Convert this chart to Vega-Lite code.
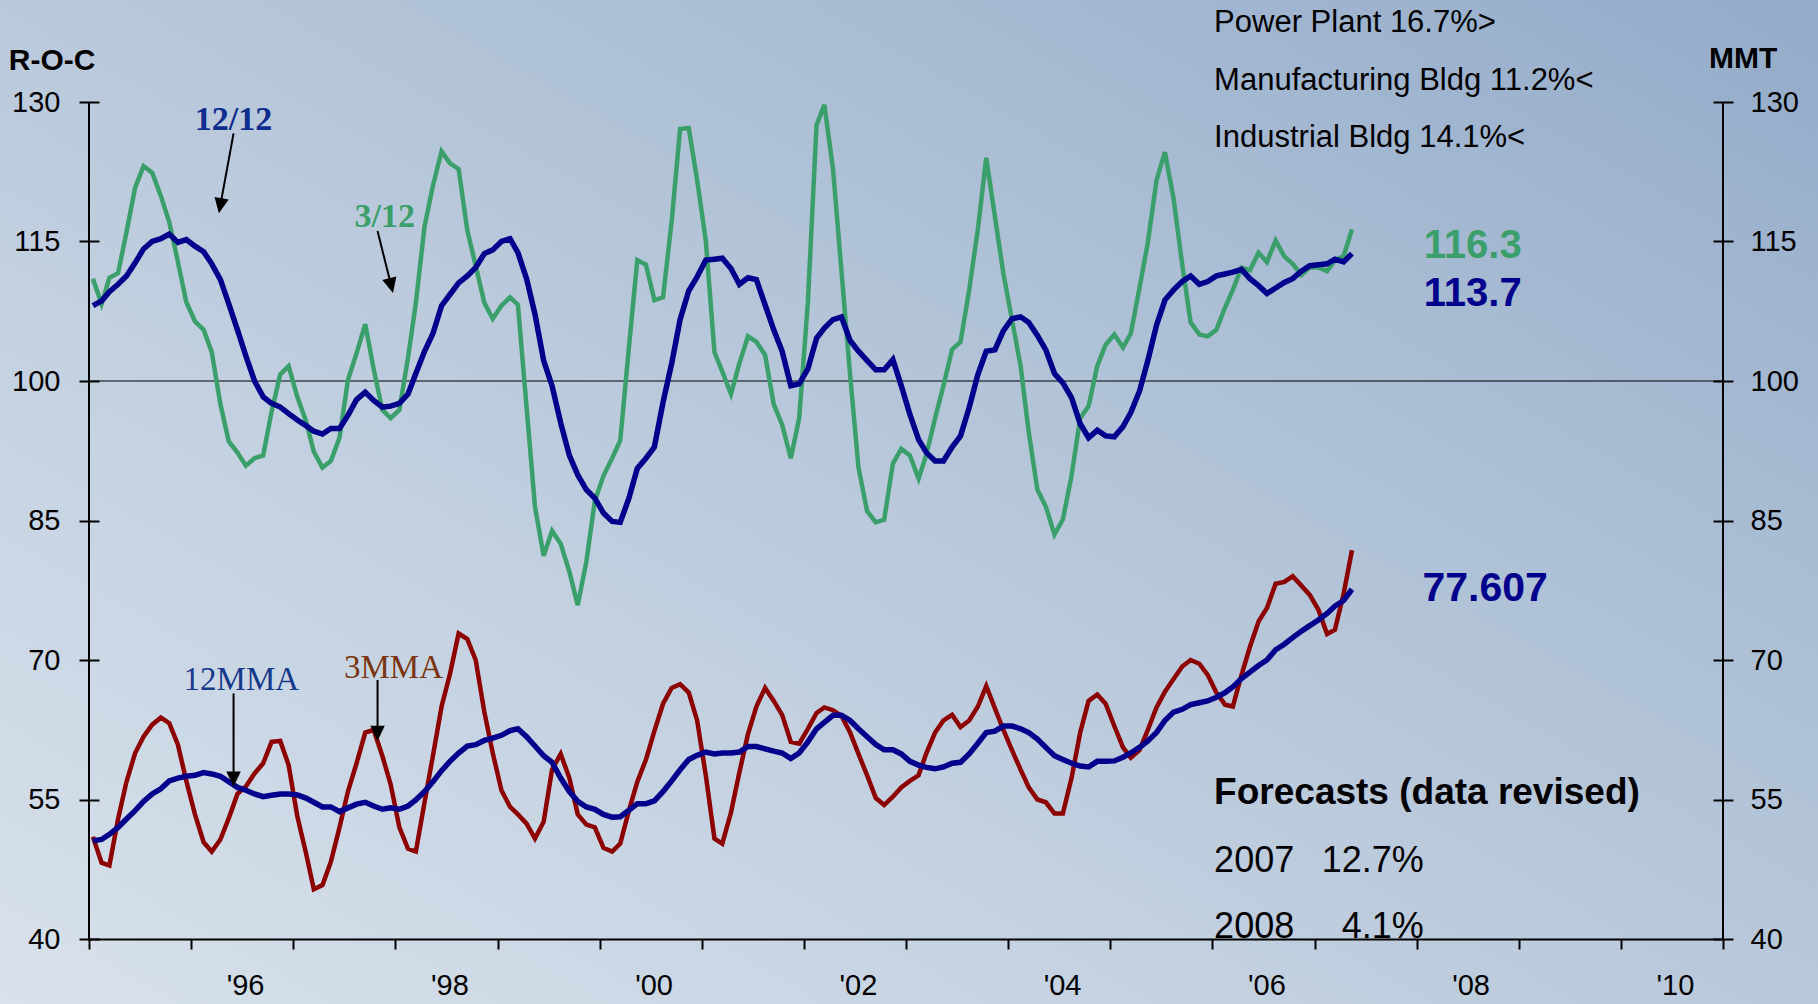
{
  "$schema": "https://vega.github.io/schema/vega-lite/v6.json",
  "width": 1634,
  "height": 837,
  "autosize": {"type": "none"},
  "padding": {"left": 89, "top": 102, "right": 95, "bottom": 65},
  "background": "#bccbdc",
  "config": {"view": {"stroke": null}, "font": "Liberation Sans", "axis": {"zindex": 2, "grid": false}},
  "datasets": {
    "series": [
      {"date":"1995-01-15","roc312":111.0,"roc1212":108.1,"mma3":51.0,"mma12":50.55},
      {"date":"1995-02-15","roc312":108.3,"roc1212":108.6,"mma3":48.2,"mma12":50.7},
      {"date":"1995-03-15","roc312":111.1,"roc1212":109.6,"mma3":47.9,"mma12":51.25},
      {"date":"1995-04-15","roc312":111.6,"roc1212":110.4,"mma3":52.9,"mma12":52.0},
      {"date":"1995-05-15","roc312":116.0,"roc1212":111.3,"mma3":56.9,"mma12":52.9},
      {"date":"1995-06-15","roc312":120.8,"roc1212":112.7,"mma3":60.0,"mma12":53.8},
      {"date":"1995-07-15","roc312":123.1,"roc1212":114.2,"mma3":61.75,"mma12":54.8},
      {"date":"1995-08-15","roc312":122.4,"roc1212":115.0,"mma3":63.05,"mma12":55.6},
      {"date":"1995-09-15","roc312":119.9,"roc1212":115.3,"mma3":63.8,"mma12":56.15},
      {"date":"1995-10-15","roc312":117.1,"roc1212":115.8,"mma3":63.2,"mma12":57.0},
      {"date":"1995-11-15","roc312":112.8,"roc1212":114.9,"mma3":60.9,"mma12":57.3},
      {"date":"1995-12-15","roc312":108.5,"roc1212":115.2,"mma3":57.0,"mma12":57.5},
      {"date":"1996-01-15","roc312":106.4,"roc1212":114.5,"mma3":53.4,"mma12":57.6},
      {"date":"1996-02-15","roc312":105.5,"roc1212":113.9,"mma3":50.4,"mma12":57.9},
      {"date":"1996-03-15","roc312":103.1,"roc1212":112.6,"mma3":49.4,"mma12":57.75},
      {"date":"1996-04-15","roc312":97.5,"roc1212":110.9,"mma3":50.7,"mma12":57.5},
      {"date":"1996-05-15","roc312":93.5,"roc1212":108.3,"mma3":53.0,"mma12":56.9},
      {"date":"1996-06-15","roc312":92.3,"roc1212":105.5,"mma3":55.6,"mma12":56.3},
      {"date":"1996-07-15","roc312":90.9,"roc1212":102.7,"mma3":56.4,"mma12":56.0},
      {"date":"1996-08-15","roc312":91.7,"roc1212":100.0,"mma3":57.8,"mma12":55.6},
      {"date":"1996-09-15","roc312":92.0,"roc1212":98.3,"mma3":58.9,"mma12":55.3},
      {"date":"1996-10-15","roc312":96.7,"roc1212":97.6,"mma3":61.2,"mma12":55.45},
      {"date":"1996-11-15","roc312":100.7,"roc1212":97.2,"mma3":61.3,"mma12":55.6},
      {"date":"1996-12-15","roc312":101.6,"roc1212":96.5,"mma3":58.7,"mma12":55.6},
      {"date":"1997-01-15","roc312":98.3,"roc1212":95.8,"mma3":53.2,"mma12":55.5},
      {"date":"1997-02-15","roc312":95.7,"roc1212":95.2,"mma3":49.25,"mma12":55.15},
      {"date":"1997-03-15","roc312":92.4,"roc1212":94.6,"mma3":45.35,"mma12":54.7},
      {"date":"1997-04-15","roc312":90.7,"roc1212":94.3,"mma3":45.8,"mma12":54.2},
      {"date":"1997-05-15","roc312":91.4,"roc1212":94.9,"mma3":48.3,"mma12":54.2},
      {"date":"1997-06-15","roc312":93.9,"roc1212":94.9,"mma3":52.0,"mma12":53.7},
      {"date":"1997-07-15","roc312":100.1,"roc1212":96.3,"mma3":55.85,"mma12":54.1},
      {"date":"1997-08-15","roc312":103.0,"roc1212":98.0,"mma3":58.9,"mma12":54.5},
      {"date":"1997-09-15","roc312":106.1,"roc1212":98.8,"mma3":62.2,"mma12":54.7},
      {"date":"1997-10-15","roc312":101.3,"roc1212":97.9,"mma3":62.5,"mma12":54.3},
      {"date":"1997-11-15","roc312":96.9,"roc1212":97.2,"mma3":59.7,"mma12":53.95},
      {"date":"1997-12-15","roc312":96.0,"roc1212":97.3,"mma3":56.6,"mma12":54.1},
      {"date":"1998-01-15","roc312":96.9,"roc1212":97.6,"mma3":52.0,"mma12":53.95},
      {"date":"1998-02-15","roc312":102.5,"roc1212":98.6,"mma3":49.7,"mma12":54.3},
      {"date":"1998-03-15","roc312":108.4,"roc1212":100.8,"mma3":49.4,"mma12":54.95},
      {"date":"1998-04-15","roc312":116.6,"roc1212":103.2,"mma3":54.7,"mma12":55.85},
      {"date":"1998-05-15","roc312":121.0,"roc1212":105.1,"mma3":59.7,"mma12":56.9},
      {"date":"1998-06-15","roc312":124.7,"roc1212":108.1,"mma3":65.0,"mma12":58.1},
      {"date":"1998-07-15","roc312":123.4,"roc1212":109.3,"mma3":68.5,"mma12":59.1},
      {"date":"1998-08-15","roc312":122.8,"roc1212":110.55,"mma3":72.85,"mma12":60.0},
      {"date":"1998-09-15","roc312":116.2,"roc1212":111.3,"mma3":72.25,"mma12":60.75},
      {"date":"1998-10-15","roc312":112.4,"roc1212":112.2,"mma3":70.0,"mma12":60.9},
      {"date":"1998-11-15","roc312":108.4,"roc1212":113.7,"mma3":64.4,"mma12":61.35},
      {"date":"1998-12-15","roc312":106.7,"roc1212":114.1,"mma3":60.0,"mma12":61.6},
      {"date":"1999-01-15","roc312":108.1,"roc1212":115.0,"mma3":56.0,"mma12":61.9},
      {"date":"1999-02-15","roc312":109.0,"roc1212":115.3,"mma3":54.2,"mma12":62.4},
      {"date":"1999-03-15","roc312":108.2,"roc1212":113.8,"mma3":53.4,"mma12":62.6},
      {"date":"1999-04-15","roc312":97.2,"roc1212":111.0,"mma3":52.4,"mma12":61.75},
      {"date":"1999-05-15","roc312":86.5,"roc1212":107.2,"mma3":50.8,"mma12":60.75},
      {"date":"1999-06-15","roc312":81.2,"roc1212":102.2,"mma3":52.6,"mma12":59.7},
      {"date":"1999-07-15","roc312":83.9,"roc1212":99.5,"mma3":58.2,"mma12":59.0},
      {"date":"1999-08-15","roc312":82.5,"roc1212":95.5,"mma3":59.9,"mma12":57.3},
      {"date":"1999-09-15","roc312":79.5,"roc1212":92.0,"mma3":57.3,"mma12":55.85},
      {"date":"1999-10-15","roc312":75.9,"roc1212":89.9,"mma3":53.4,"mma12":54.8},
      {"date":"1999-11-15","roc312":80.6,"roc1212":88.3,"mma3":52.3,"mma12":54.2},
      {"date":"1999-12-15","roc312":87.1,"roc1212":87.4,"mma3":52.0,"mma12":53.95},
      {"date":"2000-01-15","roc312":89.8,"roc1212":85.8,"mma3":49.8,"mma12":53.4},
      {"date":"2000-02-15","roc312":91.7,"roc1212":84.9,"mma3":49.4,"mma12":53.1},
      {"date":"2000-03-15","roc312":93.6,"roc1212":84.8,"mma3":50.25,"mma12":53.15},
      {"date":"2000-04-15","roc312":103.6,"roc1212":87.4,"mma3":53.8,"mma12":53.85},
      {"date":"2000-05-15","roc312":113.0,"roc1212":90.6,"mma3":56.9,"mma12":54.55},
      {"date":"2000-06-15","roc312":112.5,"roc1212":91.7,"mma3":59.3,"mma12":54.55},
      {"date":"2000-07-15","roc312":108.7,"roc1212":92.9,"mma3":62.35,"mma12":54.85},
      {"date":"2000-08-15","roc312":109.0,"roc1212":97.7,"mma3":65.3,"mma12":55.85},
      {"date":"2000-09-15","roc312":117.2,"roc1212":101.9,"mma3":67.0,"mma12":57.0},
      {"date":"2000-10-15","roc312":127.1,"roc1212":106.6,"mma3":67.4,"mma12":58.2},
      {"date":"2000-11-15","roc312":127.2,"roc1212":109.7,"mma3":66.5,"mma12":59.3},
      {"date":"2000-12-15","roc312":121.6,"roc1212":111.2,"mma3":63.5,"mma12":59.75},
      {"date":"2001-01-15","roc312":115.1,"roc1212":113.0,"mma3":57.6,"mma12":60.1},
      {"date":"2001-02-15","roc312":103.1,"roc1212":113.1,"mma3":50.8,"mma12":59.9},
      {"date":"2001-03-15","roc312":101.0,"roc1212":113.2,"mma3":50.25,"mma12":60.0},
      {"date":"2001-04-15","roc312":98.6,"roc1212":112.1,"mma3":53.6,"mma12":60.0},
      {"date":"2001-05-15","roc312":101.9,"roc1212":110.4,"mma3":57.9,"mma12":60.1},
      {"date":"2001-06-15","roc312":104.8,"roc1212":111.1,"mma3":62.05,"mma12":60.7},
      {"date":"2001-07-15","roc312":104.2,"roc1212":110.9,"mma3":65.0,"mma12":60.7},
      {"date":"2001-08-15","roc312":102.8,"roc1212":108.2,"mma3":67.0,"mma12":60.45},
      {"date":"2001-09-15","roc312":97.5,"roc1212":105.5,"mma3":65.6,"mma12":60.2},
      {"date":"2001-10-15","roc312":95.3,"roc1212":103.2,"mma3":64.1,"mma12":60.0},
      {"date":"2001-11-15","roc312":91.7,"roc1212":99.5,"mma3":61.2,"mma12":59.4},
      {"date":"2001-12-15","roc312":96.0,"roc1212":99.7,"mma3":61.0,"mma12":60.0},
      {"date":"2002-01-15","roc312":108.4,"roc1212":101.3,"mma3":62.6,"mma12":61.2},
      {"date":"2002-02-15","roc312":127.5,"roc1212":104.6,"mma3":64.3,"mma12":62.6},
      {"date":"2002-03-15","roc312":129.7,"roc1212":105.7,"mma3":64.9,"mma12":63.3},
      {"date":"2002-04-15","roc312":122.8,"roc1212":106.6,"mma3":64.6,"mma12":64.05},
      {"date":"2002-05-15","roc312":111.9,"roc1212":106.9,"mma3":64.0,"mma12":64.05},
      {"date":"2002-06-15","roc312":100.7,"roc1212":104.35,"mma3":62.2,"mma12":63.5},
      {"date":"2002-07-15","roc312":90.7,"roc1212":103.2,"mma3":59.9,"mma12":62.6},
      {"date":"2002-08-15","roc312":86.0,"roc1212":102.2,"mma3":57.6,"mma12":61.75},
      {"date":"2002-09-15","roc312":84.8,"roc1212":101.2,"mma3":55.15,"mma12":60.9},
      {"date":"2002-10-15","roc312":85.1,"roc1212":101.2,"mma3":54.4,"mma12":60.35},
      {"date":"2002-11-15","roc312":91.1,"roc1212":102.3,"mma3":55.3,"mma12":60.35},
      {"date":"2002-12-15","roc312":92.7,"roc1212":99.5,"mma3":56.3,"mma12":59.9},
      {"date":"2003-01-15","roc312":92.0,"roc1212":96.4,"mma3":57.0,"mma12":59.1},
      {"date":"2003-02-15","roc312":89.5,"roc1212":93.7,"mma3":57.6,"mma12":58.7},
      {"date":"2003-03-15","roc312":92.1,"roc1212":92.3,"mma3":60.0,"mma12":58.45},
      {"date":"2003-04-15","roc312":96.0,"roc1212":91.4,"mma3":62.2,"mma12":58.3},
      {"date":"2003-05-15","roc312":99.5,"roc1212":91.4,"mma3":63.5,"mma12":58.5},
      {"date":"2003-06-15","roc312":103.4,"roc1212":92.9,"mma3":64.1,"mma12":58.9},
      {"date":"2003-07-15","roc312":104.2,"roc1212":94.1,"mma3":62.8,"mma12":59.0},
      {"date":"2003-08-15","roc312":109.8,"roc1212":97.15,"mma3":63.5,"mma12":59.9},
      {"date":"2003-09-15","roc312":116.3,"roc1212":100.7,"mma3":65.0,"mma12":61.05},
      {"date":"2003-10-15","roc312":124.0,"roc1212":103.2,"mma3":67.2,"mma12":62.2},
      {"date":"2003-11-15","roc312":117.7,"roc1212":103.35,"mma3":64.8,"mma12":62.35},
      {"date":"2003-12-15","roc312":111.6,"roc1212":105.4,"mma3":62.5,"mma12":62.9},
      {"date":"2004-01-15","roc312":106.6,"roc1212":106.7,"mma3":60.3,"mma12":62.9},
      {"date":"2004-02-15","roc312":101.6,"roc1212":106.9,"mma3":58.2,"mma12":62.6},
      {"date":"2004-03-15","roc312":94.5,"roc1212":106.3,"mma3":56.3,"mma12":62.2},
      {"date":"2004-04-15","roc312":88.3,"roc1212":104.9,"mma3":55.0,"mma12":61.5},
      {"date":"2004-05-15","roc312":86.5,"roc1212":103.35,"mma3":54.7,"mma12":60.6},
      {"date":"2004-06-15","roc312":83.5,"roc1212":100.8,"mma3":53.5,"mma12":59.7},
      {"date":"2004-07-15","roc312":85.1,"roc1212":99.8,"mma3":53.5,"mma12":59.3},
      {"date":"2004-08-15","roc312":89.8,"roc1212":98.2,"mma3":57.3,"mma12":58.9},
      {"date":"2004-09-15","roc312":96.0,"roc1212":95.4,"mma3":62.2,"mma12":58.6},
      {"date":"2004-10-15","roc312":97.3,"roc1212":93.9,"mma3":65.6,"mma12":58.5},
      {"date":"2004-11-15","roc312":101.6,"roc1212":94.7,"mma3":66.3,"mma12":59.1},
      {"date":"2004-12-15","roc312":103.9,"roc1212":94.1,"mma3":65.3,"mma12":59.1},
      {"date":"2005-01-15","roc312":105.0,"roc1212":94.0,"mma3":62.9,"mma12":59.15},
      {"date":"2005-02-15","roc312":103.6,"roc1212":95.1,"mma3":60.6,"mma12":59.55},
      {"date":"2005-03-15","roc312":105.1,"roc1212":96.6,"mma3":59.5,"mma12":60.0},
      {"date":"2005-04-15","roc312":110.0,"roc1212":98.9,"mma3":60.3,"mma12":60.6},
      {"date":"2005-05-15","roc312":114.9,"roc1212":102.2,"mma3":62.5,"mma12":61.3},
      {"date":"2005-06-15","roc312":121.6,"roc1212":106.0,"mma3":64.9,"mma12":62.2},
      {"date":"2005-07-15","roc312":124.6,"roc1212":108.7,"mma3":66.6,"mma12":63.5},
      {"date":"2005-08-15","roc312":119.6,"roc1212":109.8,"mma3":67.95,"mma12":64.4},
      {"date":"2005-09-15","roc312":112.5,"roc1212":110.7,"mma3":69.3,"mma12":64.7},
      {"date":"2005-10-15","roc312":106.3,"roc1212":111.3,"mma3":70.0,"mma12":65.2},
      {"date":"2005-11-15","roc312":105.0,"roc1212":110.4,"mma3":69.6,"mma12":65.4},
      {"date":"2005-12-15","roc312":104.8,"roc1212":110.7,"mma3":68.4,"mma12":65.6},
      {"date":"2006-01-15","roc312":105.5,"roc1212":111.3,"mma3":66.5,"mma12":66.0},
      {"date":"2006-02-15","roc312":107.9,"roc1212":111.5,"mma3":65.2,"mma12":66.5},
      {"date":"2006-03-15","roc312":109.8,"roc1212":111.7,"mma3":65.0,"mma12":67.1},
      {"date":"2006-04-15","roc312":112.2,"roc1212":112.0,"mma3":68.4,"mma12":68.0},
      {"date":"2006-05-15","roc312":111.9,"roc1212":111.0,"mma3":71.4,"mma12":68.7},
      {"date":"2006-06-15","roc312":113.8,"roc1212":110.25,"mma3":74.15,"mma12":69.4},
      {"date":"2006-07-15","roc312":112.8,"roc1212":109.4,"mma3":75.6,"mma12":70.0},
      {"date":"2006-08-15","roc312":115.1,"roc1212":110.0,"mma3":78.2,"mma12":71.1},
      {"date":"2006-09-15","roc312":113.4,"roc1212":110.6,"mma3":78.4,"mma12":71.7},
      {"date":"2006-10-15","roc312":112.6,"roc1212":111.0,"mma3":79.0,"mma12":72.4},
      {"date":"2006-11-15","roc312":111.4,"roc1212":111.8,"mma3":78.0,"mma12":73.1},
      {"date":"2006-12-15","roc312":112.2,"roc1212":112.4,"mma3":77.0,"mma12":73.7},
      {"date":"2007-01-15","roc312":112.2,"roc1212":112.5,"mma3":75.4,"mma12":74.3},
      {"date":"2007-02-15","roc312":111.8,"roc1212":112.6,"mma3":72.8,"mma12":75.0},
      {"date":"2007-03-15","roc312":113.0,"roc1212":113.1,"mma3":73.25,"mma12":75.8},
      {"date":"2007-04-15","roc312":113.4,"roc1212":112.8,"mma3":77.1,"mma12":76.4},
      {"date":"2007-05-15","roc312":116.3,"roc1212":113.7,"mma3":81.8,"mma12":77.607}
    ]
  },
  "resolve": {"axis": {"y": "independent"}},
  "layer": [
    {
      "data": {"values": [{}]},
      "mark": {"type": "rect", "fill": {"gradient": "linear", "x1": 0, "y1": 1, "x2": 1, "y2": 0, "stops": [{"offset": 0, "color": "#d9e2ec"}, {"offset": 0.5, "color": "#b9c9db"}, {"offset": 1, "color": "#93abc9"}]}},
      "encoding": {
        "x": {"datum": {"year": 1994, "month": 2, "date": 1, "utc": true}, "type": "temporal"},
        "x2": {"datum": {"year": 2011, "month": 12, "date": 31, "utc": true}},
        "y": {"datum": 143, "type": "quantitative", "axis": null},
        "y2": {"datum": 31}
      }
    },
    {
      "data": {"values": [{}]},
      "mark": {"type": "rule", "color": "black", "strokeWidth": 1},
      "encoding": {"y": {"datum": 100, "type": "quantitative", "axis": null}}
    },
    {
      "data": {"values": [{}]},
      "mark": {"type": "rule", "color": "black", "strokeWidth": 2},
      "encoding": {"x": {"datum": {"year": 1995, "month": 1, "date": 1, "utc": true}, "type": "temporal"}}
    },
    {
      "data": {"values": [{}]},
      "mark": {"type": "rule", "color": "black", "strokeWidth": 2},
      "encoding": {"x": {"datum": {"year": 2011, "month": 1, "date": 1, "utc": true}, "type": "temporal"}}
    },
    {
      "data": {"name": "series"},
      "mark": {"type": "line", "color": "#3a9f6b", "strokeWidth": 4.5},
      "encoding": {
        "x": {
          "field": "date", "type": "temporal",
          "scale": {"type": "utc", "domain": [{"year": 1995, "month": 1, "date": 1, "utc": true}, {"year": 2011, "month": 1, "date": 1, "utc": true}]},
          "axis": {
            "values": [
              {"year": 1995, "month": 1, "date": 1, "utc": true}, {"year": 1996, "month": 1, "date": 1, "utc": true},
              {"year": 1997, "month": 1, "date": 1, "utc": true}, {"year": 1998, "month": 1, "date": 1, "utc": true},
              {"year": 1999, "month": 1, "date": 1, "utc": true}, {"year": 2000, "month": 1, "date": 1, "utc": true},
              {"year": 2001, "month": 1, "date": 1, "utc": true}, {"year": 2002, "month": 1, "date": 1, "utc": true},
              {"year": 2003, "month": 1, "date": 1, "utc": true}, {"year": 2004, "month": 1, "date": 1, "utc": true},
              {"year": 2005, "month": 1, "date": 1, "utc": true}, {"year": 2006, "month": 1, "date": 1, "utc": true},
              {"year": 2007, "month": 1, "date": 1, "utc": true}, {"year": 2008, "month": 1, "date": 1, "utc": true},
              {"year": 2009, "month": 1, "date": 1, "utc": true}, {"year": 2010, "month": 1, "date": 1, "utc": true},
              {"year": 2011, "month": 1, "date": 1, "utc": true}
            ],
            "labelExpr": "(utcyear(datum.value) % 2 == 0 && utcyear(datum.value) < 2011) ? \"'\" + utcFormat(datum.value, '%y') : ''",
            "labelOffset": 54,
            "labelOverlap": false,
            "labelFlush": false,
            "labelBound": false,
            "labelFont": "Liberation Sans",
            "labelFontSize": 29,
            "labelColor": "black",
            "labelPadding": 22,
            "tickSize": 10,
            "tickWidth": 2,
            "tickColor": "black",
            "domainColor": "black",
            "domainWidth": 2,
            "grid": false,
            "title": null,
            "zindex": 2
          }
        },
        "y": {
          "field": "roc312", "type": "quantitative",
          "scale": {"domain": [40, 130], "nice": false, "zero": false},
          "axis": {
            "orient": "left", "values": [40, 55, 70, 85, 100, 115, 130],
            "offset": -10, "tickSize": 20, "tickWidth": 2, "tickColor": "black",
            "domain": false, "grid": false, "title": null, "zindex": 2,
            "labelFont": "Liberation Sans", "labelFontSize": 29, "labelColor": "black", "labelPadding": 19
          }
        }
      }
    },
    {
      "data": {"name": "series"},
      "mark": {"type": "line", "color": "#00008c", "strokeWidth": 5.5},
      "encoding": {
        "x": {"field": "date", "type": "temporal"},
        "y": {
          "field": "roc1212", "type": "quantitative",
          "axis": {
            "orient": "right", "values": [40, 55, 70, 85, 100, 115, 130],
            "offset": -10, "tickSize": 20, "tickWidth": 2, "tickColor": "black",
            "domain": false, "grid": false, "title": null, "zindex": 2,
            "labelFont": "Liberation Sans", "labelFontSize": 29, "labelColor": "black", "labelPadding": 17
          }
        }
      }
    },
    {
      "data": {"name": "series"},
      "mark": {"type": "line", "color": "#8c0000", "strokeWidth": 4.5},
      "encoding": {
        "x": {"field": "date", "type": "temporal"},
        "y": {"field": "mma3", "type": "quantitative", "axis": null}
      }
    },
    {
      "data": {"name": "series"},
      "mark": {"type": "line", "color": "#00008c", "strokeWidth": 5.5},
      "encoding": {
        "x": {"field": "date", "type": "temporal"},
        "y": {"field": "mma12", "type": "quantitative", "axis": null}
      }
    },
    {
      "data": {"values": [{}]},
      "mark": {"type": "rule", "color": "black", "strokeWidth": 2},
      "encoding": {
        "x": {"datum": {"year": 1996, "month": 6, "date": 1, "utc": true}, "type": "temporal"},
        "y": {"datum": 126.63, "type": "quantitative", "axis": null},
        "x2": {"datum": {"year": 1996, "month": 4, "date": 15, "utc": true}},
        "y2": {"datum": 118.93}
      }
    },
    {
      "data": {"values": [{}]},
      "mark": {"type": "point", "shape": "M0,1L-0.85,-0.8L0.85,-0.8Z", "size": 289, "filled": true, "color": "black", "opacity": 1, "angle": 10.45},
      "encoding": {
        "x": {"datum": {"year": 1996, "month": 4, "date": 15, "utc": true}, "type": "temporal"},
        "y": {"datum": 118.93, "type": "quantitative", "axis": null}
      }
    },
    {
      "data": {"values": [{}]},
      "mark": {"type": "rule", "color": "black", "strokeWidth": 2},
      "encoding": {
        "x": {"datum": {"year": 1997, "month": 10, "date": 29, "utc": true}, "type": "temporal"},
        "y": {"datum": 116.13, "type": "quantitative", "axis": null},
        "x2": {"datum": {"year": 1997, "month": 12, "date": 16, "utc": true}},
        "y2": {"datum": 110.35}
      }
    },
    {
      "data": {"values": [{}]},
      "mark": {"type": "point", "shape": "M0,1L-0.85,-0.8L0.85,-0.8Z", "size": 289, "filled": true, "color": "black", "opacity": 1, "angle": -14},
      "encoding": {
        "x": {"datum": {"year": 1997, "month": 12, "date": 16, "utc": true}, "type": "temporal"},
        "y": {"datum": 110.35, "type": "quantitative", "axis": null}
      }
    },
    {
      "data": {"values": [{}]},
      "mark": {"type": "rule", "color": "black", "strokeWidth": 2},
      "encoding": {
        "x": {"datum": {"year": 1996, "month": 6, "date": 1, "utc": true}, "type": "temporal"},
        "y": {"datum": 66.41, "type": "quantitative", "axis": null},
        "y2": {"datum": 57.29}
      }
    },
    {
      "data": {"values": [{}]},
      "mark": {"type": "point", "shape": "M0,1L-0.85,-0.8L0.85,-0.8Z", "size": 289, "filled": true, "color": "black", "opacity": 1, "angle": 0},
      "encoding": {
        "x": {"datum": {"year": 1996, "month": 6, "date": 1, "utc": true}, "type": "temporal"},
        "y": {"datum": 57.29, "type": "quantitative", "axis": null}
      }
    },
    {
      "data": {"values": [{}]},
      "mark": {"type": "rule", "color": "black", "strokeWidth": 2},
      "encoding": {
        "x": {"datum": {"year": 1997, "month": 10, "date": 29, "utc": true}, "type": "temporal"},
        "y": {"datum": 67.85, "type": "quantitative", "axis": null},
        "y2": {"datum": 62.2}
      }
    },
    {
      "data": {"values": [{}]},
      "mark": {"type": "point", "shape": "M0,1L-0.85,-0.8L0.85,-0.8Z", "size": 289, "filled": true, "color": "black", "opacity": 1, "angle": 0},
      "encoding": {
        "x": {"datum": {"year": 1997, "month": 10, "date": 29, "utc": true}, "type": "temporal"},
        "y": {"datum": 62.2, "type": "quantitative", "axis": null}
      }
    },
    {
      "data": {"values": [{}]},
      "mark": {"type": "text", "text": "R-O-C", "font": "Liberation Sans", "fontWeight": "bold", "fontSize": 30, "color": "black", "align": "left", "baseline": "alphabetic"},
      "encoding": {
        "x": {"datum": {"year": 1994, "month": 3, "date": 20, "utc": true}, "type": "temporal"},
        "y": {"datum": 133.44, "type": "quantitative", "axis": null}
      }
    },
    {
      "data": {"values": [{}]},
      "mark": {"type": "text", "text": "MMT", "font": "Liberation Sans", "fontWeight": "bold", "fontSize": 30, "color": "black", "align": "left", "baseline": "alphabetic"},
      "encoding": {
        "x": {"datum": {"year": 2010, "month": 11, "date": 12, "utc": true}, "type": "temporal"},
        "y": {"datum": 133.66, "type": "quantitative", "axis": null}
      }
    },
    {
      "data": {"values": [{}]},
      "mark": {"type": "text", "text": "12/12", "font": "Liberation Serif", "fontWeight": "bold", "fontSize": 34, "color": "#0f2d8f", "align": "center", "baseline": "alphabetic"},
      "encoding": {
        "x": {"datum": {"year": 1996, "month": 6, "date": 1, "utc": true}, "type": "temporal"},
        "y": {"datum": 126.99, "type": "quantitative", "axis": null}
      }
    },
    {
      "data": {"values": [{}]},
      "mark": {"type": "text", "text": "3/12", "font": "Liberation Serif", "fontWeight": "bold", "fontSize": 34, "color": "#3a9f6b", "align": "center", "baseline": "alphabetic"},
      "encoding": {
        "x": {"datum": {"year": 1997, "month": 11, "date": 24, "utc": true}, "type": "temporal"},
        "y": {"datum": 116.59, "type": "quantitative", "axis": null}
      }
    },
    {
      "data": {"values": [{}]},
      "mark": {"type": "text", "text": "12MMA", "font": "Liberation Serif", "fontSize": 33, "color": "#17398c", "align": "center", "baseline": "alphabetic"},
      "encoding": {
        "x": {"datum": {"year": 1996, "month": 6, "date": 29, "utc": true}, "type": "temporal"},
        "y": {"datum": 66.77, "type": "quantitative", "axis": null}
      }
    },
    {
      "data": {"values": [{}]},
      "mark": {"type": "text", "text": "3MMA", "font": "Liberation Serif", "fontSize": 33, "color": "#7a3510", "align": "center", "baseline": "alphabetic"},
      "encoding": {
        "x": {"datum": {"year": 1997, "month": 12, "date": 25, "utc": true}, "type": "temporal"},
        "y": {"datum": 68.1, "type": "quantitative", "axis": null}
      }
    },
    {
      "data": {"values": [{}]},
      "mark": {"type": "text", "text": "Power Plant 16.7%>", "font": "Liberation Sans", "fontSize": 31, "color": "black", "align": "left", "baseline": "alphabetic"},
      "encoding": {
        "x": {"datum": {"year": 2006, "month": 1, "date": 7, "utc": true}, "type": "temporal"},
        "y": {"datum": 137.56, "type": "quantitative", "axis": null}
      }
    },
    {
      "data": {"values": [{}]},
      "mark": {"type": "text", "text": "Manufacturing Bldg 11.2%<", "font": "Liberation Sans", "fontSize": 31, "color": "black", "align": "left", "baseline": "alphabetic"},
      "encoding": {
        "x": {"datum": {"year": 2006, "month": 1, "date": 7, "utc": true}, "type": "temporal"},
        "y": {"datum": 131.29, "type": "quantitative", "axis": null}
      }
    },
    {
      "data": {"values": [{}]},
      "mark": {"type": "text", "text": "Industrial Bldg 14.1%<", "font": "Liberation Sans", "fontSize": 31, "color": "black", "align": "left", "baseline": "alphabetic"},
      "encoding": {
        "x": {"datum": {"year": 2006, "month": 1, "date": 7, "utc": true}, "type": "temporal"},
        "y": {"datum": 125.19, "type": "quantitative", "axis": null}
      }
    },
    {
      "data": {"values": [{}]},
      "mark": {"type": "text", "text": "116.3", "font": "Liberation Sans", "fontWeight": "bold", "fontSize": 40, "color": "#3a9f6b", "align": "left", "baseline": "alphabetic"},
      "encoding": {
        "x": {"datum": {"year": 2008, "month": 1, "date": 27, "utc": true}, "type": "temporal"},
        "y": {"datum": 113.23, "type": "quantitative", "axis": null}
      }
    },
    {
      "data": {"values": [{}]},
      "mark": {"type": "text", "text": "113.7", "font": "Liberation Sans", "fontWeight": "bold", "fontSize": 40, "color": "#00008c", "align": "left", "baseline": "alphabetic"},
      "encoding": {
        "x": {"datum": {"year": 2008, "month": 1, "date": 27, "utc": true}, "type": "temporal"},
        "y": {"datum": 108.06, "type": "quantitative", "axis": null}
      }
    },
    {
      "data": {"values": [{}]},
      "mark": {"type": "text", "text": "77.607", "font": "Liberation Sans", "fontWeight": "bold", "fontSize": 41, "color": "#00008c", "align": "left", "baseline": "alphabetic"},
      "encoding": {
        "x": {"datum": {"year": 2008, "month": 1, "date": 22, "utc": true}, "type": "temporal"},
        "y": {"datum": 76.38, "type": "quantitative", "axis": null}
      }
    },
    {
      "data": {"values": [{}]},
      "mark": {"type": "text", "text": "Forecasts (data revised)", "font": "Liberation Sans", "fontWeight": "bold", "fontSize": 37, "color": "black", "align": "left", "baseline": "alphabetic"},
      "encoding": {
        "x": {"datum": {"year": 2006, "month": 1, "date": 7, "utc": true}, "type": "temporal"},
        "y": {"datum": 54.52, "type": "quantitative", "axis": null}
      }
    },
    {
      "data": {"values": [{}]},
      "mark": {"type": "text", "text": "2007", "font": "Liberation Sans", "fontSize": 36, "color": "black", "align": "left", "baseline": "alphabetic"},
      "encoding": {
        "x": {"datum": {"year": 2006, "month": 1, "date": 7, "utc": true}, "type": "temporal"},
        "y": {"datum": 47.24, "type": "quantitative", "axis": null}
      }
    },
    {
      "data": {"values": [{}]},
      "mark": {"type": "text", "text": "12.7%", "font": "Liberation Sans", "fontSize": 36, "color": "black", "align": "right", "baseline": "alphabetic"},
      "encoding": {
        "x": {"datum": {"year": 2008, "month": 1, "date": 27, "utc": true}, "type": "temporal"},
        "y": {"datum": 47.24, "type": "quantitative", "axis": null}
      }
    },
    {
      "data": {"values": [{}]},
      "mark": {"type": "text", "text": "2008", "font": "Liberation Sans", "fontSize": 36, "color": "black", "align": "left", "baseline": "alphabetic"},
      "encoding": {
        "x": {"datum": {"year": 2006, "month": 1, "date": 7, "utc": true}, "type": "temporal"},
        "y": {"datum": 40.11, "type": "quantitative", "axis": null}
      }
    },
    {
      "data": {"values": [{}]},
      "mark": {"type": "text", "text": "4.1%", "font": "Liberation Sans", "fontSize": 36, "color": "black", "align": "right", "baseline": "alphabetic"},
      "encoding": {
        "x": {"datum": {"year": 2008, "month": 1, "date": 27, "utc": true}, "type": "temporal"},
        "y": {"datum": 40.11, "type": "quantitative", "axis": null}
      }
    }
  ]
}
